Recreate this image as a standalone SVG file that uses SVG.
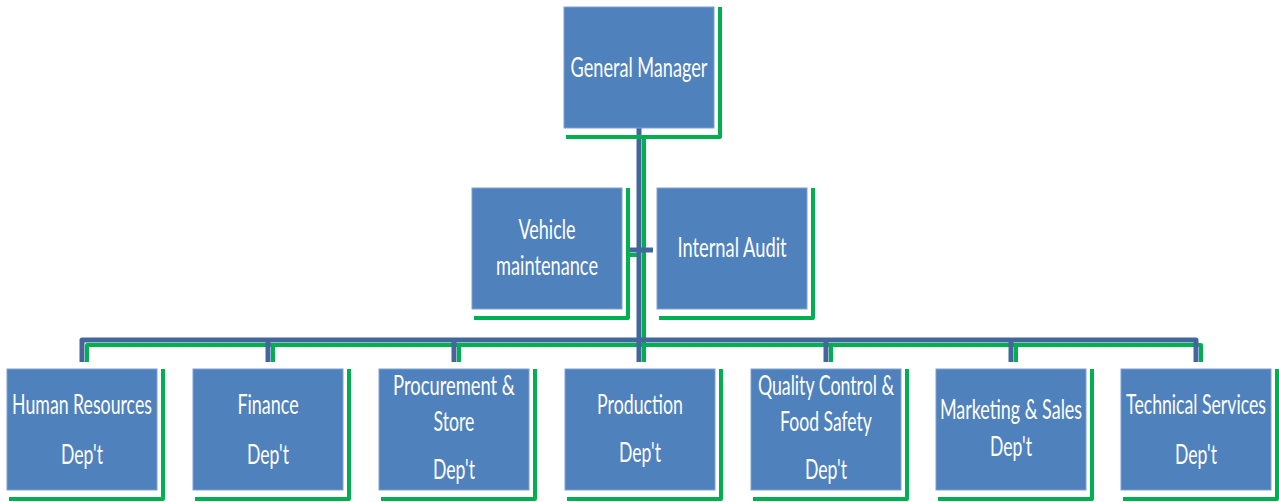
<svg xmlns="http://www.w3.org/2000/svg" width="1279" height="502" viewBox="0 0 1279 502">
  <style>
    .box { fill: #4F81BD; stroke: #7FA2CF; stroke-width: 1; }
    .shadow { fill: none; stroke: #00B050; stroke-width: 4; stroke-linejoin: round; }
    .lbl { font-family: Lato, "Liberation Sans", sans-serif; font-size: 26px; fill: #FFFFFF; text-anchor: middle; }
    .wire { fill: none; stroke: #43679C; stroke-width: 5; stroke-linejoin: round; }
    .wire-shadow { fill: none; stroke: #00B050; stroke-width: 4; stroke-linejoin: round; }
  </style>
  <rect width="1279" height="502" fill="#FFFFFF"/>

  <!-- connectors: green offset lines first, blue lines on top -->
  <g id="connectors">
    <path class="wire-shadow" d="M644 137 V362"/>
    <path class="wire-shadow" d="M630 255 H640"/>
    <path class="wire-shadow" d="M87 362 V345 H1201 V362"/>
    <path class="wire-shadow" d="M273 345 V362 M459 345 V362 M831 345 V362 M1016 345 V362"/>
    <path class="wire" d="M639 128 V362"/>
    <path class="wire" d="M626 250 H653" stroke-width="6"/>
    <path class="wire" d="M82 362 V340 H1196 V362"/>
    <path class="wire" d="M268 340 V362 M454 340 V362 M826 340 V362 M1011 340 V362"/>
  </g>

  <!-- labels are set in a condensed style: horizontal scale 0.6, length fitted per line -->
  <g id="general-manager">
    <path class="shadow" d="M566 137 H720 V7"/>
    <rect class="box" x="564" y="7" width="150" height="121"/>
    <text class="lbl" transform="translate(639 77) scale(0.6 1)" textLength="228" lengthAdjust="spacingAndGlyphs">General Manager</text>
  </g>

  <g id="vehicle-maintenance">
    <path class="shadow" d="M474 318 H628 V188"/>
    <rect class="box" x="472" y="188" width="150" height="121"/>
    <text class="lbl" transform="translate(547 239) scale(0.6 1)" textLength="95" lengthAdjust="spacingAndGlyphs">Vehicle</text>
    <text class="lbl" transform="translate(547 275) scale(0.6 1)" textLength="170" lengthAdjust="spacingAndGlyphs">maintenance</text>
  </g>

  <g id="internal-audit">
    <path class="shadow" d="M659 318 H813 V188"/>
    <rect class="box" x="657" y="188" width="150" height="121"/>
    <text class="lbl" transform="translate(732 257) scale(0.6 1)" textLength="182" lengthAdjust="spacingAndGlyphs">Internal Audit</text>
  </g>

  <g id="human-resources">
    <path class="shadow" d="M9 499 H163 V369"/>
    <rect class="box" x="7" y="369" width="150" height="121"/>
    <text class="lbl" transform="translate(82 414) scale(0.6 1)" textLength="233" lengthAdjust="spacingAndGlyphs">Human Resources</text>
    <text class="lbl" transform="translate(82 464) scale(0.6 1)" textLength="70" lengthAdjust="spacingAndGlyphs">Dep't</text>
  </g>

  <g id="finance">
    <path class="shadow" d="M195 499 H349 V369"/>
    <rect class="box" x="193" y="369" width="150" height="121"/>
    <text class="lbl" transform="translate(268 414) scale(0.6 1)" textLength="102" lengthAdjust="spacingAndGlyphs">Finance</text>
    <text class="lbl" transform="translate(268 464) scale(0.6 1)" textLength="70" lengthAdjust="spacingAndGlyphs">Dep't</text>
  </g>

  <g id="procurement-store">
    <path class="shadow" d="M381 499 H535 V369"/>
    <rect class="box" x="379" y="369" width="150" height="121"/>
    <text class="lbl" transform="translate(454 395) scale(0.6 1)" textLength="203" lengthAdjust="spacingAndGlyphs">Procurement &amp;</text>
    <text class="lbl" transform="translate(454 431) scale(0.6 1)" textLength="68" lengthAdjust="spacingAndGlyphs">Store</text>
    <text class="lbl" transform="translate(454 479) scale(0.6 1)" textLength="70" lengthAdjust="spacingAndGlyphs">Dep't</text>
  </g>

  <g id="production">
    <path class="shadow" d="M567 499 H721 V369"/>
    <rect class="box" x="565" y="369" width="150" height="121"/>
    <text class="lbl" transform="translate(640 414) scale(0.6 1)" textLength="143" lengthAdjust="spacingAndGlyphs">Production</text>
    <text class="lbl" transform="translate(640 462) scale(0.6 1)" textLength="70" lengthAdjust="spacingAndGlyphs">Dep't</text>
  </g>

  <g id="quality-control">
    <path class="shadow" d="M753 499 H907 V369"/>
    <rect class="box" x="751" y="369" width="150" height="121"/>
    <text class="lbl" transform="translate(826 395) scale(0.6 1)" textLength="227" lengthAdjust="spacingAndGlyphs">Quality Control &amp;</text>
    <text class="lbl" transform="translate(826 431) scale(0.6 1)" textLength="153" lengthAdjust="spacingAndGlyphs">Food Safety</text>
    <text class="lbl" transform="translate(826 479) scale(0.6 1)" textLength="70" lengthAdjust="spacingAndGlyphs">Dep't</text>
  </g>

  <g id="marketing-sales">
    <path class="shadow" d="M938 499 H1092 V369"/>
    <rect class="box" x="936" y="369" width="150" height="121"/>
    <text class="lbl" transform="translate(1011 419) scale(0.6 1)" textLength="237" lengthAdjust="spacingAndGlyphs">Marketing &amp; Sales</text>
    <text class="lbl" transform="translate(1011 456) scale(0.6 1)" textLength="70" lengthAdjust="spacingAndGlyphs">Dep't</text>
  </g>

  <g id="technical-services">
    <path class="shadow" d="M1123 499 H1277 V369"/>
    <rect class="box" x="1121" y="369" width="150" height="121"/>
    <text class="lbl" transform="translate(1196 414) scale(0.6 1)" textLength="233" lengthAdjust="spacingAndGlyphs">Technical Services</text>
    <text class="lbl" transform="translate(1196 464) scale(0.6 1)" textLength="70" lengthAdjust="spacingAndGlyphs">Dep't</text>
  </g>
</svg>
